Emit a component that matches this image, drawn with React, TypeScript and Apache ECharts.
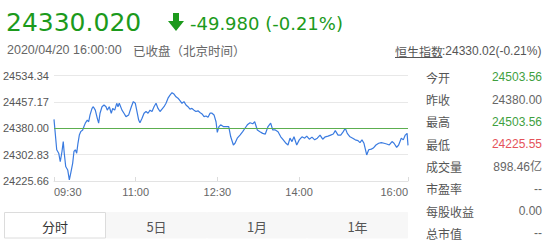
import React, { useEffect, useRef } from "react";
import * as echarts from "echarts";

// minutes since 09:30 (continuous clock time to 16:00)
const times = [
  0, 3.0, 5.2, 6.9, 8.8, 10.2, 11.3, 12.9, 15.1, 16.9, 18.4, 20.6, 22.0, 23.5, 25.0, 26.4, 27.9, 29.4,
  31.6, 33.0, 34.5, 36.7, 38.2, 39.7, 41.9, 43.3, 45.5, 47.7, 49.2, 50.7, 52.9, 55.1, 57.3, 58.7, 60.9,
  63.1, 64.7, 66.9, 69.1, 70.5, 71.9, 74.9, 77.1, 79.3, 82.3, 85.2, 87.4, 89.6, 91.1, 93.3, 94.7, 97.0,
  99.2, 101.4, 103.6, 105.8, 108.0, 110.2, 112.4, 114.6, 116.8, 119.0, 121.2, 123.4, 125.6, 127.8, 130.0,
  132.2, 134.4, 136.6, 138.8, 141.0, 143.2, 145.4, 147.6, 149.8, 152.0, 154.2, 156.4, 158.6, 160.8, 163.1,
  165.3, 167.5, 169.7, 171.9, 174.1, 176.3, 178.5, 179.9, 181.8, 183.6, 186.5, 190.3, 192.5, 194.7, 197.6,
  199.4, 201.9, 204.9, 207.9, 210.4, 213.0, 216.0, 218.9, 221.1, 224.0, 226.9, 229.9, 232.8, 235.8, 238.7,
  241.0, 243.8, 246.8, 249.8, 252.6, 255.6, 257.8, 260.0, 262.2, 264.4, 267.4, 270.2, 273.2, 276.2, 278.4,
  281.3, 284.2, 287.2, 290.1, 293.1, 296.0, 298.9, 301.9, 304.8, 307.7, 309.9, 312.9, 315.9, 318.7, 320.9,
  323.1, 326.1, 329.1, 331.9, 334.9, 337.1, 339.3, 341.5, 344.5, 346.7, 349.6, 351.8, 354.7, 357.7, 360.6,
  363.6, 366.5, 369.4, 372.4, 374.6, 377.5, 379.7, 382.6, 384.8, 387.0, 389.0, 390.0,
];
const prices = [
  24406, 24317, 24307, 24282, 24312, 24341, 24307, 24268, 24258, 24229, 24248, 24278, 24312, 24317, 24307,
  24336, 24360, 24370, 24375, 24385, 24395, 24404, 24399, 24419, 24438, 24443, 24433, 24409, 24395, 24424,
  24443, 24448, 24443, 24433, 24443, 24424, 24438, 24433, 24453, 24443, 24453, 24433, 24424, 24414, 24419,
  24443, 24458, 24453, 24433, 24404, 24396, 24409, 24424, 24429, 24424, 24433, 24429, 24443, 24453, 24438,
  24429, 24436, 24443, 24453, 24468, 24477, 24484, 24480, 24472, 24468, 24461, 24453, 24458, 24448, 24443,
  24436, 24438, 24433, 24429, 24431, 24426, 24422, 24414, 24416, 24412, 24424, 24424, 24419, 24399, 24368,
  24385, 24390, 24385, 24385, 24385, 24355, 24331, 24336, 24351, 24360, 24370, 24380, 24390, 24396, 24393,
  24399, 24375, 24370, 24365, 24363, 24385, 24395, 24375, 24375, 24370, 24355, 24346, 24336, 24331, 24351,
  24341, 24355, 24331, 24346, 24355, 24351, 24357, 24348, 24354, 24346, 24351, 24360, 24348, 24355, 24357,
  24360, 24363, 24373, 24360, 24360, 24370, 24380, 24365, 24355, 24351, 24346, 24344, 24338, 24346, 24336,
  24302, 24317, 24319, 24322, 24331, 24336, 24338, 24336, 24334, 24331, 24341, 24336, 24324, 24331, 24351,
  24346, 24360, 24365, 24330,
];
const prevClose = 24380;
const yBase = 24225.66;
const yStep = 77.17;
const xTickMinutes = [0, 90, 180, 270, 390];

const lastPrice = "24330.020";
const change = "-49.980 (-0.21%)";
const dateText = "2020/04/20 16:00:00";
const statusText = "已收盘（北京时间）";
const indexName = "恒生指数";
const indexText = ":24330.02(-0.21%)";
const statLabels = ["今开", "昨收", "最高", "最低", "成交量", "市盈率", "每股收益", "总市值"];
const statValues = ["24503.56", "24380.00", "24503.56", "24225.55", "898.46亿", "--", "0.00", "--"];
const statColors = ["#3f9f3f", "#666", "#3f9f3f", "#e5525a", "#666", "#666", "#666", "#666"];
const tabs = ["分时", "5日", "1月", "1年"];

const LATIN = "'Liberation Sans', Arial, 'Noto Sans CJK SC', sans-serif";
const CJK = "'Noto Sans CJK SC', 'Liberation Sans', sans-serif";

function minuteToLabel(m: number) {
  const total = 9 * 60 + 30 + Math.round(m);
  const h = Math.floor(total / 60);
  const mm = total % 60;
  return `${h < 10 ? "0" + h : h}:${mm < 10 ? "0" + mm : mm}`;
}

export default function App() {
  const ref = useRef<HTMLDivElement>(null);
  useEffect(() => {
    if (!ref.current) return;
    const chart = echarts.init(ref.current, undefined, { renderer: "svg" });
    const green = "#1c9a1c";
    const graphics: any[] = [];
    graphics.push({
      type: "text", x: 6, y: 22,
      style: { text: lastPrice, font: "25px 'DejaVu Sans'", fill: green, textVerticalAlign: "middle", verticalAlign: "middle" },
    });
    graphics.push({
      type: "polygon",
      shape: { points: [[173, 13], [179, 13], [179, 21], [184, 21], [176, 31], [168, 21], [173, 21]] },
      style: { fill: green },
    });
    graphics.push({
      type: "text", x: 190, y: 23.5,
      style: { text: change, font: "18px 'DejaVu Sans'", fill: green, textVerticalAlign: "middle", verticalAlign: "middle" },
    });
    graphics.push({
      type: "text", x: 7, y: 50,
      style: { text: dateText, font: `12.5px ${LATIN}`, fill: "#666", textVerticalAlign: "middle", verticalAlign: "middle" },
    });
    graphics.push({
      type: "text", x: 133, y: 50,
      style: { text: statusText, font: `12.5px ${CJK}`, fill: "#666", textVerticalAlign: "middle", verticalAlign: "middle" },
    });
    graphics.push({
      type: "text", x: 395, y: 51,
      style: { text: indexName, font: `12px ${CJK}`, fill: "#555", textVerticalAlign: "middle", verticalAlign: "middle" },
    });
    graphics.push({
      type: "line", shape: { x1: 395, y1: 57.5, x2: 442, y2: 57.5 }, style: { stroke: "#555", lineWidth: 1 },
    });
    graphics.push({
      type: "text", x: 442, y: 51,
      style: { text: indexText, font: `12px ${LATIN}`, fill: "#555", textVerticalAlign: "middle", verticalAlign: "middle" },
    });
    statLabels.forEach((lab, i) => {
      const y = 77.3 + i * 22.3;
      graphics.push({
        type: "text", x: 426, y,
        style: { text: lab, font: `12px ${CJK}`, fill: "#555", textVerticalAlign: "middle", verticalAlign: "middle" },
      });
      graphics.push({
        type: "text", x: 542, y,
        style: {
          text: statValues[i], font: `12px ${LATIN}`, fill: statColors[i],
          textAlign: "right", align: "right", textVerticalAlign: "middle", verticalAlign: "middle",
        },
      });
    });
    const tabEdges = [4, 106, 207, 307, 408];
    tabs.forEach((t, i) => {
      const x0 = tabEdges[i];
      const x1 = tabEdges[i + 1];
      graphics.push({
        type: "rect",
        shape: { x: x0 + 0.5, y: 212.5, width: x1 - x0 - 1, height: 25.5 },
        style: { fill: i === 0 ? "#fff" : "#f7f7f7", stroke: i === 0 ? "#dcdcdc" : "#f7f7f7", lineWidth: 1 },
      });
      graphics.push({
        type: "text", x: (x0 + x1) / 2, y: 226,
        style: {
          text: t, font: `13px ${CJK}`, fill: i === 0 ? "#333" : "#555",
          textAlign: "center", align: "center", textVerticalAlign: "middle", verticalAlign: "middle",
        },
      });
    });

    chart.setOption({
      animation: false,
      grid: { left: 54, right: 145, top: 75.5, bottom: 71 },
      xAxis: {
        type: "value",
        min: 0,
        max: 390,
        axisLine: { show: true, lineStyle: { color: "#e3e3e3" } },
        axisTick: { show: true, inside: true, length: 4, customValues: xTickMinutes, lineStyle: { color: "#dcdcdc" } },
        axisLabel: {
          customValues: xTickMinutes,
          formatter: (v: number) => minuteToLabel(v),
          alignMinLabel: "left",
          alignMaxLabel: "right",
          margin: 5,
          fontSize: 11,
          color: "#666",
          fontFamily: LATIN,
        },
        splitLine: { show: false },
      },
      yAxis: {
        type: "value",
        min: 0,
        max: 308.68,
        interval: yStep,
        axisLine: { show: false },
        axisTick: { show: false },
        axisLabel: {
          formatter: (v: number) => (v + yBase).toFixed(2),
          align: "left",
          margin: 51,
          fontSize: 11,
          color: "#555",
          fontFamily: LATIN,
        },
        splitLine: { lineStyle: { color: "#e8e8e8" } },
      },
      series: [
        {
          type: "line",
          data: times.map((t, i) => [t, prices[i] - yBase]),
          symbol: "none",
          lineStyle: { color: "#3a7be0", width: 1.2 },
          markLine: {
            silent: true,
            symbol: "none",
            label: { show: false },
            lineStyle: { color: "#5cae4f", type: "solid", width: 1 },
            emphasis: { disabled: true },
            data: [{ yAxis: prevClose - yBase }],
          },
        },
      ],
      graphic: graphics,
    });
    return () => chart.dispose();
  }, []);
  return (
    <div
      ref={ref}
      style={{ position: "absolute", left: 0, top: 0, width: 553, height: 252, background: "#fff" }}
    />
  );
}
